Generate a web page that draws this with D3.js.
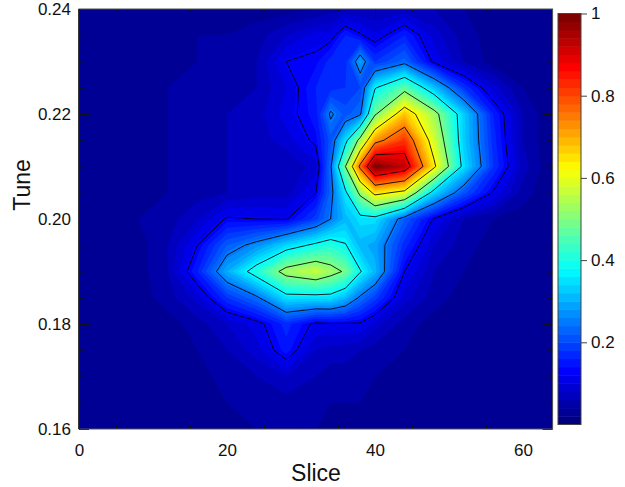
<!DOCTYPE html>
<html>
<head>
<meta charset="utf-8">
<script src="https://cdn.jsdelivr.net/npm/d3@7"></script>
<style>
  html, body { margin: 0; padding: 0; background: #fff; }
  svg { display: block; }
  text { font-family: "Liberation Sans", sans-serif; fill: #111; }
  .tick text { font-size: 17px; }
  .axis-title { font-size: 23px; }
</style>
</head>
<body>
<div id="chart"></div>
<script>
let sliceValues = [0, 4, 8, 12, 16, 20, 24, 28, 32, 34, 36, 38, 40, 44, 48, 52, 56, 60, 64];
let tuneValues = [0.24, 0.235, 0.23, 0.225, 0.22, 0.215, 0.21, 0.205, 0.20, 0.195, 0.19, 0.185, 0.18, 0.175, 0.17, 0.165, 0.16];

// one row per tune, top to bottom, one value per slice
let zRows = [
  [.02,.02,.02,.02,.03,.03,.03,.03,.04,.05,.06,.06,.06,.07,.06,.04,.03,.02,.02],
  [.02,.02,.02,.03,.04,.04,.05,.08,.108,.11,.16,.13,.105,.16,.09,.05,.03,.02,.02],
  [.02,.02,.03,.03,.04,.05,.06,.125,.135,.17,.17,.29,.18,.23,.115,.06,.03,.02,.02],
  [.02,.02,.03,.04,.05,.05,.06,.10,.16,.17,.18,.20,.37,.47,.32,.18,.09,.04,.02],
  [.02,.02,.03,.04,.05,.06,.07,.11,.15,.26,.21,.24,.49,.68,.53,.33,.16,.06,.02],
  [.02,.02,.03,.04,.05,.06,.07,.09,.135,.21,.35,.53,.72,.82,.58,.33,.17,.06,.02],
  [.02,.02,.03,.04,.05,.06,.06,.06,.09,.24,.50,.77,1.0,.93,.64,.35,.18,.07,.02],
  [.02,.02,.03,.04,.05,.06,.07,.07,.125,.23,.36,.52,.65,.60,.34,.21,.12,.05,.02],
  [.02,.02,.04,.05,.08,.13,.125,.122,.19,.25,.31,.35,.35,.22,.12,.06,.04,.03,.02],
  [.02,.02,.03,.06,.125,.22,.27,.34,.39,.41,.38,.31,.29,.17,.08,.05,.03,.02,.02],
  [.02,.02,.03,.06,.16,.30,.41,.53,.57,.53,.49,.38,.31,.125,.06,.04,.03,.02,.02],
  [.02,.02,.03,.05,.09,.18,.24,.35,.35,.35,.31,.24,.19,.09,.05,.03,.03,.02,.02],
  [.02,.02,.02,.03,.05,.08,.11,.17,.115,.12,.12,.12,.09,.05,.03,.03,.02,.02,.02],
  [.02,.02,.02,.03,.04,.06,.09,.15,.08,.07,.07,.06,.05,.04,.03,.03,.03,.02,.02],
  [.02,.02,.02,.03,.03,.05,.06,.08,.06,.05,.05,.05,.04,.03,.03,.03,.03,.02,.02],
  [.02,.02,.02,.02,.03,.04,.05,.05,.05,.04,.04,.04,.03,.03,.03,.03,.02,.02,.02],
  [.02,.02,.02,.02,.02,.03,.04,.04,.04,.03,.03,.03,.03,.03,.02,.02,.02,.02,.02]
];

let contourLevels = [.125, .25, .375, .5, .625, .75, .875];
let bandCount = 50;

let xLabelTicks = [0, 20, 40, 60];
let xMiddleTicks = [10, 30, 50];
let xMinorTicks = [5, 15, 25, 35, 45, 55];
let yLabelTicks = [0.16, 0.18, 0.20, 0.22, 0.24];
let yMinorTicks = [0.165, 0.17, 0.175, 0.185, 0.19, 0.195, 0.205, 0.21, 0.215, 0.225, 0.23, 0.235];
let barTicks = [0.2, 0.4, 0.6, 0.8, 1];

let width = 625, height = 487;

let x = d3.scaleLinear().domain([0, 64]).range([79, 552.6]);
let y = d3.scaleLinear().domain([0.16, 0.24]).range([429, 9]);
let barY = d3.scaleLinear().domain([0, 1]).range([424.5, 13.5]);

// grid index -> data value
let colToSlice = d3.scaleLinear().domain(d3.range(sliceValues.length)).range(sliceValues);
let rowToTune = d3.scaleLinear().domain(d3.range(tuneValues.length)).range(tuneValues);

function jet(v) {
  let c = t => Math.round(255 * Math.max(0, Math.min(1, t)));
  return d3.rgb(c(1.5 - Math.abs(4 * v - 3)), c(1.5 - Math.abs(4 * v - 2)), c(1.5 - Math.abs(4 * v - 1))).formatHex();
}

let svg = d3.select("#chart")
  .append("svg")
  .attr("width", width)
  .attr("height", height);

svg.append("clipPath")
  .attr("id", "plot-clip")
  .append("rect")
  .attr("x", x(0))
  .attr("y", y(0.24))
  .attr("width", x(64) - x(0))
  .attr("height", y(0.16) - y(0.24));

let values = zRows.flat();
let n = sliceValues.length, m = tuneValues.length;

let contours = d3.contours().size([n, m]);

let path = d3.geoPath(d3.geoTransform({
  point: function(px, py) {
    this.stream.point(x(colToSlice(px - 0.5)), y(rowToTune(py - 0.5)));
  }
}));

let plot = svg.append("g").attr("clip-path", "url(#plot-clip)");

plot.append("rect")
  .attr("x", x(0))
  .attr("y", y(0.24))
  .attr("width", x(64) - x(0))
  .attr("height", y(0.16) - y(0.24))
  .attr("fill", jet(0));

let bands = d3.range(1, bandCount);

plot.selectAll("path.band")
  .data(bands)
  .enter()
  .append("path")
  .attr("class", "band")
  .attr("d", k => path(contours.contour(values, k / bandCount)))
  .attr("fill", k => jet(k / (bandCount - 1)));

plot.selectAll("path.level")
  .data(contourLevels)
  .enter()
  .append("path")
  .attr("class", "level")
  .attr("d", l => path(contours.contour(values, l)))
  .attr("fill", "none")
  .attr("stroke", "#000")
  .attr("stroke-opacity", 0.85)
  .attr("stroke-width", 1);

// frame, ticks point inwards
function tickLayer(axis, transform) {
  let g = svg.append("g").attr("transform", transform).call(axis);
  g.select(".domain").remove();
  g.selectAll(".tick line").attr("stroke", "#111");
  return g;
}

let fmt2 = d3.format(".2f");

tickLayer(d3.axisBottom(x).tickValues(xLabelTicks).tickSize(-10).tickPadding(15).tickFormat(d3.format("d")), `translate(0,${y(0.16)})`);
tickLayer(d3.axisBottom(x).tickValues(xMiddleTicks).tickSize(-6).tickFormat(""), `translate(0,${y(0.16)})`);
tickLayer(d3.axisBottom(x).tickValues(xMinorTicks).tickSize(-3).tickFormat(""), `translate(0,${y(0.16)})`);
tickLayer(d3.axisTop(x).tickValues(xLabelTicks).tickSize(-10).tickFormat(""), `translate(0,${y(0.24)})`);
tickLayer(d3.axisTop(x).tickValues(xMiddleTicks).tickSize(-6).tickFormat(""), `translate(0,${y(0.24)})`);
tickLayer(d3.axisTop(x).tickValues(xMinorTicks).tickSize(-3).tickFormat(""), `translate(0,${y(0.24)})`);

tickLayer(d3.axisLeft(y).tickValues(yLabelTicks).tickSize(-10).tickPadding(8).tickFormat(fmt2), `translate(${x(0)},0)`);
tickLayer(d3.axisLeft(y).tickValues(yMinorTicks).tickSize(-5).tickFormat(""), `translate(${x(0)},0)`);
tickLayer(d3.axisRight(y).tickValues(yLabelTicks).tickSize(-10).tickFormat(""), `translate(${x(64)},0)`);
tickLayer(d3.axisRight(y).tickValues(yMinorTicks).tickSize(-5).tickFormat(""), `translate(${x(64)},0)`);

svg.append("rect")
  .attr("x", x(0))
  .attr("y", y(0.24))
  .attr("width", x(64) - x(0))
  .attr("height", y(0.16) - y(0.24))
  .attr("fill", "none")
  .attr("stroke", "#555")
  .attr("stroke-width", 1);

svg.append("line")
  .attr("x1", x(0))
  .attr("x2", x(0))
  .attr("y1", y(0.24))
  .attr("y2", y(0.16))
  .attr("stroke", "#111")
  .attr("stroke-width", 1.5);

svg.append("text")
  .attr("class", "axis-title")
  .attr("x", 316)
  .attr("y", 481)
  .attr("text-anchor", "middle")
  .text("Slice");

svg.append("text")
  .attr("class", "axis-title")
  .attr("transform", "translate(30,185) rotate(-90)")
  .attr("text-anchor", "middle")
  .text("Tune");

// colour bar
let bar = svg.append("g");
let bandHeight = (barY(0) - barY(1)) / bandCount;

bar.selectAll("rect")
  .data(d3.range(bandCount))
  .enter()
  .append("rect")
  .attr("x", 558)
  .attr("y", k => barY((k + 1) / bandCount))
  .attr("width", 23)
  .attr("height", bandHeight + 0.5)
  .attr("fill", k => jet(k / (bandCount - 1)));

bar.append("rect")
  .attr("x", 558)
  .attr("y", barY(1))
  .attr("width", 23)
  .attr("height", barY(0) - barY(1))
  .attr("fill", "none")
  .attr("stroke", "#444")
  .attr("stroke-width", 1);

let barAxis = tickLayer(d3.axisRight(barY).tickValues(barTicks).tickSize(6).tickPadding(4).tickFormat(d => d === 1 ? "1" : d3.format(".1f")(d)), "translate(581,0)");
barAxis.selectAll(".tick line").attr("stroke", "#444");
</script>
</body>
</html>
